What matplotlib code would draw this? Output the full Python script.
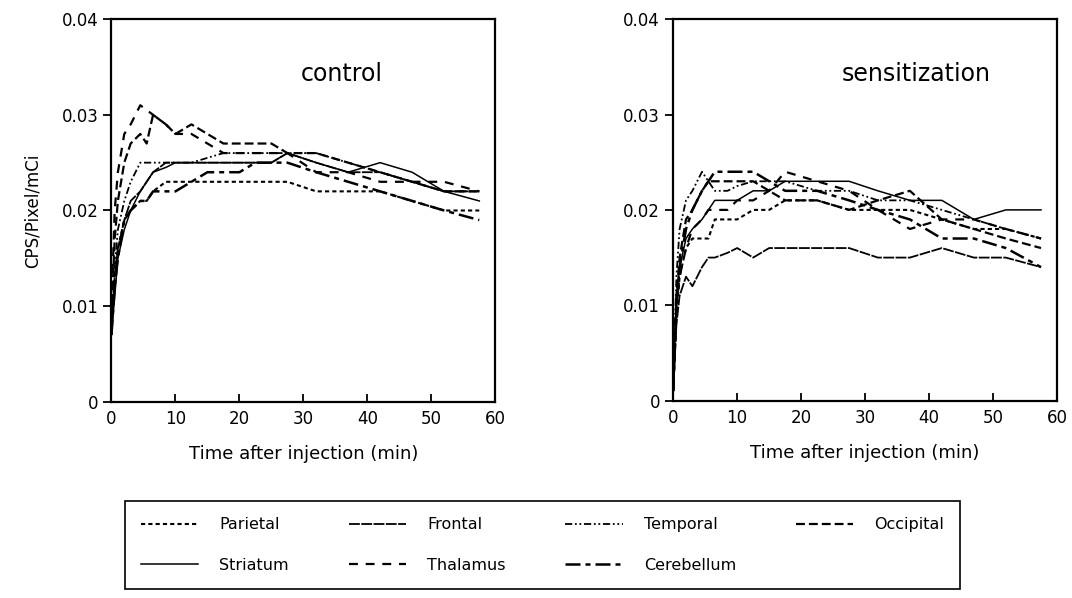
import matplotlib
matplotlib.use("Agg")
import matplotlib.pyplot as plt
from matplotlib.lines import Line2D

# sampling times (min)
t = [0, 0.5, 1, 2, 3, 4.5, 5.5, 6.5, 8.5, 10, 12.5, 15, 17.5, 20, 22.5, 25, 27.5, 32, 37, 42, 47, 52, 57.5]

regions = ["Parietal", "Frontal", "Temporal", "Occipital", "Striatum", "Thalamus", "Cerebellum"]

# control group, CPS/Pixel/mCi
ctl_parietal = [0.007, 0.013, 0.016, 0.019, 0.020, 0.021, 0.021, 0.022, 0.023, 0.023, 0.023, 0.023, 0.023,
                0.023, 0.023, 0.023, 0.023, 0.022, 0.022, 0.022, 0.021, 0.020, 0.020]
ctl_frontal = [0.008, 0.013, 0.016, 0.019, 0.021, 0.022, 0.023, 0.024, 0.025, 0.025, 0.025, 0.025, 0.025,
               0.025, 0.025, 0.025, 0.026, 0.025, 0.024, 0.024, 0.023, 0.022, 0.022]
ctl_temporal = [0.008, 0.014, 0.018, 0.021, 0.023, 0.025, 0.025, 0.025, 0.025, 0.025, 0.025, 0.0255, 0.026,
                0.026, 0.026, 0.026, 0.026, 0.026, 0.025, 0.024, 0.023, 0.022, 0.022]
ctl_occipital = [0.009, 0.017, 0.021, 0.025, 0.027, 0.028, 0.027, 0.030, 0.029, 0.028, 0.029, 0.028, 0.027,
                 0.027, 0.027, 0.027, 0.026, 0.026, 0.025, 0.024, 0.023, 0.022, 0.022]
ctl_striatum = [0.007, 0.011, 0.015, 0.018, 0.020, 0.022, 0.023, 0.024, 0.0245, 0.025, 0.025, 0.025, 0.025,
                0.025, 0.025, 0.025, 0.026, 0.025, 0.024, 0.025, 0.024, 0.022, 0.021]
ctl_thalamus = [0.010, 0.020, 0.024, 0.028, 0.029, 0.031, 0.0305, 0.030, 0.029, 0.028, 0.028, 0.027, 0.026,
                0.026, 0.026, 0.026, 0.026, 0.024, 0.024, 0.023, 0.023, 0.023, 0.022]
ctl_cerebellum = [0.007, 0.012, 0.015, 0.019, 0.020, 0.021, 0.021, 0.022, 0.022, 0.022, 0.023, 0.024, 0.024,
                  0.024, 0.025, 0.025, 0.025, 0.024, 0.023, 0.022, 0.021, 0.020, 0.019]

# sensitization group
sen_parietal = [0.001, 0.009, 0.013, 0.016, 0.017, 0.017, 0.017, 0.019, 0.019, 0.019, 0.020, 0.020, 0.021,
                0.021, 0.021, 0.0205, 0.020, 0.020, 0.020, 0.019, 0.018, 0.018, 0.017]
sen_frontal = [0.001, 0.008, 0.011, 0.013, 0.012, 0.014, 0.015, 0.015, 0.0155, 0.016, 0.015, 0.016, 0.016,
               0.016, 0.016, 0.016, 0.016, 0.015, 0.015, 0.016, 0.015, 0.015, 0.014]
sen_temporal = [0.002, 0.013, 0.018, 0.021, 0.022, 0.024, 0.023, 0.022, 0.022, 0.0225, 0.023, 0.023, 0.023,
                0.0225, 0.022, 0.022, 0.022, 0.021, 0.021, 0.020, 0.019, 0.018, 0.017]
sen_occipital = [0.001, 0.011, 0.015, 0.019, 0.020, 0.022, 0.023, 0.023, 0.023, 0.023, 0.023, 0.022, 0.021,
                 0.021, 0.021, 0.0205, 0.020, 0.021, 0.022, 0.019, 0.018, 0.017, 0.016]
sen_striatum = [0.001, 0.011, 0.014, 0.017, 0.018, 0.019, 0.020, 0.021, 0.021, 0.021, 0.022, 0.022, 0.023,
                0.023, 0.023, 0.023, 0.023, 0.022, 0.021, 0.021, 0.019, 0.020, 0.020]
sen_thalamus = [0.001, 0.010, 0.013, 0.016, 0.018, 0.019, 0.020, 0.020, 0.020, 0.021, 0.021, 0.022, 0.024,
                0.0235, 0.023, 0.0225, 0.022, 0.020, 0.018, 0.019, 0.019, 0.018, 0.017]
sen_cerebellum = [0.001, 0.010, 0.014, 0.018, 0.020, 0.022, 0.023, 0.024, 0.024, 0.024, 0.024, 0.023, 0.022,
                  0.022, 0.022, 0.0215, 0.021, 0.020, 0.019, 0.017, 0.017, 0.016, 0.014]

control = [ctl_parietal, ctl_frontal, ctl_temporal, ctl_occipital, ctl_striatum, ctl_thalamus, ctl_cerebellum]
sensitization = [sen_parietal, sen_frontal, sen_temporal, sen_occipital, sen_striatum, sen_thalamus, sen_cerebellum]

# line look for each region
styles = {
    "Parietal": dict(ls=(0, (2, 1.5)), lw=1.5),
    "Frontal": dict(ls=(0, (6, 0.8)), lw=1.3),
    "Temporal": dict(ls=(0, (4, 1.5, 1, 1.5, 1, 1.5)), lw=1.3),
    "Occipital": dict(ls=(0, (4, 1.8)), lw=1.6),
    "Striatum": dict(ls="-", lw=1.1),
    "Thalamus": dict(ls=(0, (4, 3.5)), lw=1.6),
    "Cerebellum": dict(ls=(0, (6, 2, 2, 2)), lw=1.8),
}

plt.rcParams['font.family'] = ['DejaVu Sans']

fig = plt.figure(figsize=(10.72, 5.98), dpi=100)
ax1 = fig.add_axes([0.104, 0.328, 0.358, 0.640])
ax2 = fig.add_axes([0.628, 0.330, 0.358, 0.638])

for ax, data, title, tx in [(ax1, control, "control", 36.0), (ax2, sensitization, "sensitization", 38.0)]:
    for name, vals in zip(regions, data):
        ax.plot(t, vals, color="black", **styles[name])
    ax.set_xlim(0, 60)
    ax.set_ylim(0, 0.04)
    ax.set_xticks([0, 10, 20, 30, 40, 50, 60])
    ax.set_yticks([0, 0.01, 0.02, 0.03, 0.04])
    ax.set_yticklabels(["0", "0.01", "0.02", "0.03", "0.04"])
    ax.tick_params(axis="both", labelsize=12, length=6, width=1.3, color="black")
    ax.tick_params(axis="x", direction="in", pad=6)
    for sp in ax.spines.values():
        sp.set_linewidth(1.6)
    ax.set_xlabel("Time after injection (min)", fontsize=13, labelpad=12)
    ax.text(tx, 0.0343, title, fontsize=17, ha="center", va="center")

ax1.set_ylabel("CPS/Pixel/mCi", fontsize=12, labelpad=14)

# legend fills column by column, so reorder to get rows: P F T O / S Th C
order = ["Parietal", "Striatum", "Frontal", "Thalamus", "Temporal", "Cerebellum", "Occipital"]
handles = [Line2D([], [], color="black", **styles[n]) for n in order]
leg = fig.legend(handles, order, loc="lower left", ncol=4, mode="expand",
                 bbox_to_anchor=(0.109, 0.002, 0.794, 0.157), fontsize=11.5,
                 handlelength=3.6, handletextpad=1.3, labelspacing=1.6,
                 borderpad=1.0, fancybox=False, framealpha=1, edgecolor="black")
leg.get_frame().set_linewidth(1.2)

fig.savefig("out.png", dpi=100)
